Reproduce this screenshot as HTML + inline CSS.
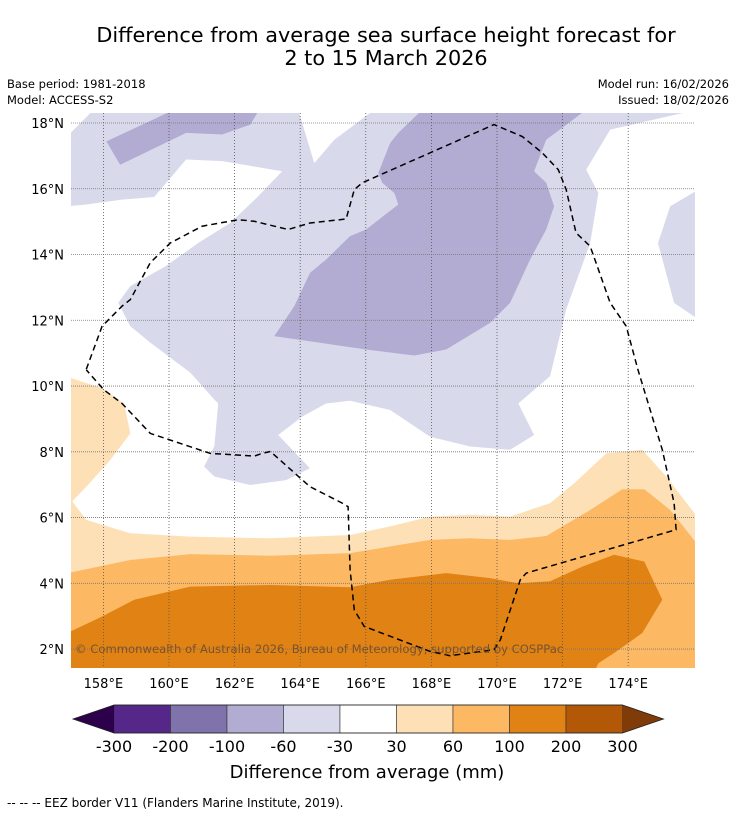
<!DOCTYPE html>
<html><head><meta charset="utf-8">
<style>
html,body{margin:0;padding:0;background:#fff;}
body{width:736px;height:816px;position:relative;overflow:hidden;font-family:"DejaVu Sans","Liberation Sans",sans-serif;}
svg text{font-family:"DejaVu Sans","Liberation Sans",sans-serif;}
</style></head>
<body>
<svg id="chart" width="736" height="816" viewBox="0 0 736 816" xmlns="http://www.w3.org/2000/svg">
<text x="386" y="42" font-size="20.8" text-anchor="middle" fill="#000">Difference from average sea surface height forecast for</text>
<text x="386" y="65" font-size="20.8" text-anchor="middle" fill="#000">2 to 15 March 2026</text>
<text x="7" y="88" font-size="11.5">Base period: 1981-2018</text>
<text x="7" y="104" font-size="11.5">Model: ACCESS-S2</text>
<text x="729" y="88" font-size="11.5" text-anchor="end">Model run: 16/02/2026</text>
<text x="729" y="104" font-size="11.5" text-anchor="end">Issued: 18/02/2026</text>
<defs><clipPath id="mapclip"><rect x="71" y="113" width="624" height="555"/></clipPath></defs>
<g id="map" clip-path="url(#mapclip)"></g>
<g id="axes"></g>
<g id="cbar"></g>
<text x="367" y="778" font-size="18" text-anchor="middle">Difference from average (mm)</text>
<text x="7" y="807" font-size="12">--  --  -- EEZ border V11 (Flanders Marine Institute, 2019).</text>
</svg>
<script>
// ---- data ----
const lonTicks = [158,160,162,164,166,168,170,172,174];
const latTicks = [2,4,6,8,10,12,14,16,18];
const levels = [-300,-200,-100,-60,-30,30,60,100,200,300];
const levelColors = ["#542788","#8073ac","#b2abd2","#d8daeb","#ffffff","#fee0b6","#fdb863","#e08214","#b35806"];
const extendColors = ["#2d004b","#7f3b08"];
// contour regions [lon,lat]
const regionLightPurple = [[156.9,18.4],[176.1,18.4],[176.1,1.3],[156.9,1.3]];
const regionWhite = [[156.9,15.47],[157.48,15.52],[158.57,15.67],[159.55,15.75],[160.52,16.89],[161.62,16.84],[163.45,16.53],[162.72,15.77],[161.87,14.96],[160.89,14.35],[159.91,13.65],[158.82,13.04],[158.45,12.53],[158.82,11.82],[159.43,11.32],[160.65,10.41],[161.38,9.59],[161.50,9.47],[161.38,8.16],[161.07,7.55],[161.38,7.25],[162.48,6.99],[163.57,7.14],[164.30,7.50],[163.33,8.51],[164.06,9.07],[164.79,9.47],[165.52,9.55],[166.74,9.27],[167.96,8.46],[169.18,8.16],[170.40,8.06],[171.13,8.51],[170.65,9.47],[171.62,10.30],[172.11,12.33],[172.84,14.35],[173.09,15.87],[172.72,16.58],[173.45,17.80],[175.65,18.30],[176.1,18.4],[176.1,3],[156.9,3]];
const regionWhiteTop = [[163.94,18.4],[164.43,16.78],[165.04,17.49],[166.26,18.4]];
const regionWhiteCorner = [[156.9,18.4],[157.7,18.4],[156.9,17.6]];
const regionRightBlob = [[176.1,15.95],[175.28,15.47],[174.91,14.35],[175.40,12.53],[176.1,12.05]];
const regionPurpleTL = [[158.09,17.44],[160.04,18.35],[162.72,18.35],[162.48,17.95],[161.62,17.65],[160.52,17.70],[158.51,16.73]];
const regionPurpleMain = [[167.72,18.4],[166.99,17.70],[166.74,17.39],[166.38,16.48],[166.50,16.18],[166.87,15.87],[166.99,15.52],[166.01,14.76],[165.52,14.56],[164.79,13.85],[164.30,13.44],[163.82,12.43],[163.21,11.52],[166.01,11.11],[167.48,10.93],[168.45,11.11],[169.79,11.92],[170.40,12.53],[171.01,13.85],[171.50,14.76],[171.74,15.47],[171.50,16.18],[171.13,16.53],[171.50,17.49],[172.72,18.4]];
const regionOrange30 = [[156.9,10.28],[157.96,9.93],[158.63,9.47],[158.82,8.56],[158.21,7.75],[157.48,6.94],[157.05,6.49],[157.48,5.93],[158.82,5.52],[160.65,5.42],[163.09,5.37],[165.52,5.47],[166.74,5.73],[167.96,6.03],[169.18,6.08],[170.40,6.03],[171.62,6.44],[172.35,7.04],[173.33,7.95],[174.43,8.06],[175.16,7.25],[176.1,6.03],[176.1,1.3],[156.9,1.3]];
const regionOrange60 = [[156.9,4.31],[158.82,4.71],[160.65,4.89],[163.09,4.84],[165.52,4.92],[167.96,5.32],[169.18,5.37],[170.40,5.32],[171.50,5.44],[172.84,6.23],[173.82,6.86],[174.49,6.86],[175.28,6.23],[176.1,5.2],[176.1,1.3],[156.9,1.3]];
const regionOrange100 = [[156.9,2.49],[157.96,2.99],[158.94,3.50],[160.65,3.90],[163.09,3.95],[165.52,3.88],[166.74,4.11],[168.45,4.31],[169.79,4.16],[170.65,4.00],[171.62,4.06],[172.60,4.51],[173.57,4.87],[174.49,4.66],[175.04,3.50],[174.43,2.49],[173.57,1.88],[173.09,1.57],[172.96,1.3],[156.9,1.3]];
const eezBorder = [[157.48,10.51],[157.96,11.82],[158.57,12.43],[158.82,12.63],[159.43,13.75],[160.04,14.35],[161.01,14.86],[162.11,15.06],[162.60,15.01],[163.63,14.76],[164.30,14.96],[165.40,15.08],[165.65,15.97],[165.89,16.18],[169.91,17.95],[170.77,17.59],[171.38,17.09],[171.87,16.58],[172.11,15.97],[172.41,14.66],[172.84,14.25],[173.45,12.53],[173.94,11.82],[174.30,10.49],[175.04,8.06],[175.40,6.44],[175.46,5.63],[170.89,4.31],[170.71,4.11],[170.10,2.28],[169.91,1.98],[168.57,1.80],[167.96,1.93],[165.95,2.69],[165.65,3.19],[165.52,4.41],[165.46,6.33],[165.28,6.44],[164.30,6.94],[163.09,8.01],[162.84,7.95],[162.60,7.87],[161.26,7.95],[159.43,8.56],[158.57,9.47],[158.02,9.88],[157.48,10.49]];
// ---- axes ----
const NS="http://www.w3.org/2000/svg";
function xOf(lon){return 70.6+(lon-157)*32.8;}
function yOf(lat){return 123+(18-lat)*32.88;}
function mk(tag,attrs,parent){const e=document.createElementNS(NS,tag);for(const k in attrs)e.setAttribute(k,attrs[k]);parent.appendChild(e);return e;}
function pts(poly){return poly.map(p=>xOf(p[0]).toFixed(1)+","+yOf(p[1]).toFixed(1)).join(" ");}
const map=document.getElementById('map');
function region(poly,color,name){
  const e=mk('polygon',{points:pts(poly),fill:color,stroke:'none'},map);
  
  
}
region(regionLightPurple,levelColors[3],'contour-minus60-minus30');
region(regionWhite,levelColors[4],'contour-near-average');
region(regionWhiteTop,levelColors[4],'contour-near-average-top');
region(regionWhiteCorner,levelColors[4],'contour-near-average-corner');
region(regionRightBlob,levelColors[3],'contour-minus60-minus30-east');
region(regionPurpleTL,levelColors[2],'contour-minus100-minus60-northwest');
region(regionPurpleMain,levelColors[2],'contour-minus100-minus60-central');
region(regionOrange30,levelColors[5],'contour-30-60');
region(regionOrange60,levelColors[6],'contour-60-100');
region(regionOrange100,levelColors[7],'contour-100-200');
// gridlines
lonTicks.forEach(l=>{
  const g=mk('line',{x1:xOf(l),x2:xOf(l),y1:113,y2:668,stroke:'#555','stroke-width':0.8,'stroke-dasharray':'1,2'},map);
  
  
});
latTicks.forEach(l=>{
  const g=mk('line',{x1:71,x2:695,y1:yOf(l),y2:yOf(l),stroke:'#777','stroke-width':0.8,'stroke-dasharray':'1,1'},map);
  
  
});
const eez=mk('polyline',{points:pts(eezBorder),fill:'none',stroke:'#000','stroke-width':1.5,'stroke-dasharray':'6,4'},map);


const cp=mk('text',{x:75,y:653,'font-size':11.6,fill:'#6b4a2a','fill-opacity':0.85},map);
cp.textContent='© Commonwealth of Australia 2026, Bureau of Meteorology, supported by COSPPac';


const axes=document.getElementById('axes');
lonTicks.forEach(l=>{
  const t=mk('text',{x:xOf(l),y:688,'font-size':13,'text-anchor':'middle'},axes);
  t.textContent=l+'°E';
  
  
});
latTicks.forEach(l=>{
  const t=mk('text',{x:64,y:yOf(l)+5,'font-size':13,'text-anchor':'end'},axes);
  t.textContent=l+'°N';
  
  
});
// colorbar
const cb=document.getElementById('cbar');
const cbX0=114,cbW=56.5,cbY=705,cbH=28;
levelColors.forEach((c,i)=>{
  const r=mk('rect',{x:cbX0+i*cbW,y:cbY,width:cbW,height:cbH,fill:c,stroke:'#333','stroke-width':0.6},cb);
  
  
});
const cbX1=cbX0+levelColors.length*cbW;
const tl=mk('polygon',{points:`${cbX0},${cbY} ${cbX0-41},${cbY+cbH/2} ${cbX0},${cbY+cbH}`,fill:extendColors[0]},cb);


const tr=mk('polygon',{points:`${cbX1},${cbY} ${cbX1+41},${cbY+cbH/2} ${cbX1},${cbY+cbH}`,fill:extendColors[1]},cb);


const ol=mk('polygon',{points:`${cbX0-41},${cbY+cbH/2} ${cbX0},${cbY} ${cbX1},${cbY} ${cbX1+41},${cbY+cbH/2} ${cbX1},${cbY+cbH} ${cbX0},${cbY+cbH}`,fill:'none',stroke:'#222','stroke-width':0.8},cb);


levels.forEach((v,i)=>{
  const t=mk('text',{x:cbX0+i*cbW,y:752,'font-size':16,'text-anchor':'middle'},cb);
  t.textContent=v;
  
  
});
</script>
</body></html>
